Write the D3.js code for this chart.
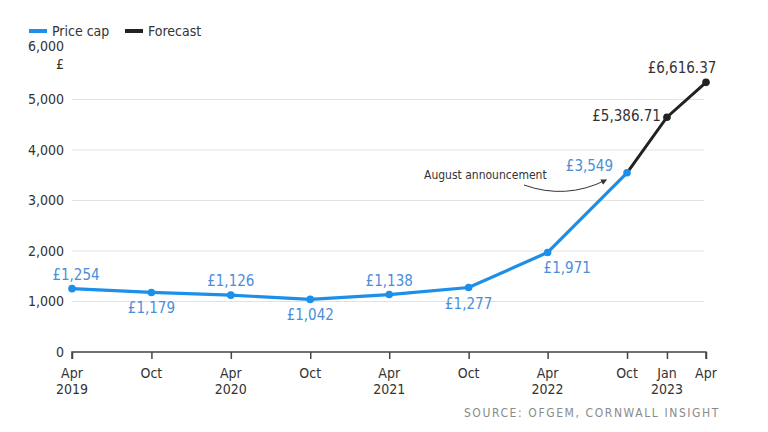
<!DOCTYPE html>
<html><head><meta charset="utf-8">
<script src="https://cdn.jsdelivr.net/npm/d3@7"></script>
<style>
body{margin:0;background:#fff;}
svg{font-family:"Liberation Sans Narrow","DejaVu Sans Condensed","Roboto Condensed",sans-serif;}
</style></head>
<body><svg id="c" width="768" height="432"></svg>
<script>
const capDates = ["2019-04-01","2019-10-01","2020-04-01","2020-10-01","2021-04-01","2021-10-01","2022-04-01","2022-10-01"];
const capValues = [1254,1179,1126,1042,1138,1277,1971,3549];
const capLabels = ["£1,254","£1,179","£1,126","£1,042","£1,138","£1,277","£1,971","£3,549"];
const capLabelPos = ["above","below","above","below","above","below","belowRight","leftAbove"];
const fcDates = ["2022-10-01","2023-01-01","2023-04-01"];
const fcValues = [3549,4650,5340];
const fcLabels = ["","£5,386.71","£6,616.37"];
const yTicks = [0,1000,2000,3000,4000,5000,6000];
const xTicks = ["2019-04-01","2019-10-01","2020-04-01","2020-10-01","2021-04-01","2021-10-01","2022-04-01","2022-10-01","2023-01-01","2023-04-01"];
const xTickLine1 = ["Apr","Oct","Apr","Oct","Apr","Oct","Apr","Oct","Jan","Apr"];
const xTickLine2 = ["2019","","2020","","2021","","2022","","2023",""];

const svg = d3.select("#c");
const parse = d3.timeParse("%Y-%m-%d");
const x = d3.scaleTime().domain([parse("2019-04-01"), parse("2023-04-01")]).range([72, 706]);
const y = d3.scaleLinear().domain([0, 6000]).range([352, 49]);
const blue = "#1b8fe9", blueText = "#4a8ed8", dark = "#222";

// gridlines
svg.append("g").selectAll("line").data(yTicks.filter(d => d > 0 && d < 6000)).join("line")
  .attr("x1", 72).attr("x2", 704).attr("y1", d => y(d)).attr("y2", d => y(d))
  .attr("stroke", "#e2e2e2").attr("stroke-width", 1);

// y labels
svg.append("g").selectAll("text").data(yTicks).join("text")
  .attr("x", 64).attr("y", d => d === 6000 ? 51 : y(d)).attr("dy", d => d === 6000 ? 0 : "0.35em").attr("text-anchor", "end")
  .attr("font-size", 14).attr("fill", "#333").text(d => d3.format(",")(d));
svg.append("text").attr("x", 64).attr("y", 69).attr("text-anchor", "end").attr("font-size", 14).attr("fill", "#333").text("£");

// x axis
const xa = svg.append("g").attr("transform", `translate(0,${y(0)})`)
  .call(d3.axisBottom(x).tickValues(xTicks.map(parse)).tickSize(7).tickFormat(""));
xa.select(".domain").attr("stroke", "#444").attr("stroke-width", 1.5).attr("d", "M72,7V0H706V7");
xa.selectAll(".tick line").attr("stroke", "#444").attr("stroke-width", 1.5);
const xl = svg.append("g").selectAll("g").data(xTicks).join("g");
xl.append("text").attr("x", d => x(parse(d))).attr("y", 378).attr("text-anchor", "middle")
  .attr("font-size", 14).attr("fill", "#333").text((d, i) => xTickLine1[i]);
xl.append("text").attr("x", d => x(parse(d))).attr("y", 394).attr("text-anchor", "middle")
  .attr("font-size", 14).attr("fill", "#333").text((d, i) => xTickLine2[i]);

// lines
const capData = capDates.map((d, i) => ({d: parse(d), v: capValues[i], l: capLabels[i], p: capLabelPos[i]}));
const fcData = fcDates.map((d, i) => ({d: parse(d), v: fcValues[i], l: fcLabels[i]}));
const line = d3.line().x(d => x(d.d)).y(d => y(d.v));
svg.append("path").datum(fcData).attr("d", line).attr("fill", "none").attr("stroke", dark).attr("stroke-width", 3);
svg.append("path").datum(capData).attr("d", line).attr("fill", "none").attr("stroke", blue).attr("stroke-width", 3.2);
svg.append("g").selectAll("circle").data(fcData.slice(1)).join("circle")
  .attr("cx", d => x(d.d)).attr("cy", d => y(d.v)).attr("r", 3.8).attr("fill", dark);
svg.append("g").selectAll("circle").data(capData).join("circle")
  .attr("cx", d => x(d.d)).attr("cy", d => y(d.v)).attr("r", 3.8).attr("fill", blue);

// cap labels
svg.append("g").selectAll("text").data(capData).join("text")
  .attr("font-size", 15).attr("fill", blueText)
  .attr("text-anchor", d => d.p === "leftAbove" ? "end" : (d.p === "belowRight" ? "start" : "middle"))
  .attr("x", d => d.p === "leftAbove" ? x(d.d) - 14 : (d.p === "belowRight" ? x(d.d) - 4 : x(d.d) + (d.p === "above" && d.v === 1254 ? 4 : 0)))
  .attr("y", d => d.p === "above" ? y(d.v) - 9 : (d.p === "leftAbove" ? y(d.v) - 2 : y(d.v) + 21))
  .text(d => d.l);

// forecast labels
svg.append("text").attr("x", x(fcData[1].d) - 6).attr("y", y(fcData[1].v) + 4).attr("text-anchor", "end")
  .attr("font-size", 15).attr("fill", "#333").text(fcData[1].l);
svg.append("text").attr("x", x(fcData[2].d) - 24).attr("y", y(fcData[2].v) - 9).attr("text-anchor", "middle")
  .attr("font-size", 15).attr("fill", "#333").text(fcData[2].l);

// annotation
svg.append("text").attr("x", 424).attr("y", 179).attr("font-size", 12).attr("fill", "#333").text("August announcement");
svg.append("defs").append("marker").attr("id", "ah").attr("viewBox", "0 0 10 10").attr("refX", 8).attr("refY", 5)
  .attr("markerWidth", 6).attr("markerHeight", 6).attr("orient", "auto")
  .append("path").attr("d", "M0,0L10,5L0,10z").attr("fill", "#333");
svg.append("path").attr("d", "M524,185 Q566,200 606,180").attr("fill", "none").attr("stroke", "#333")
  .attr("stroke-width", 1).attr("marker-end", "url(#ah)");

// legend
svg.append("line").attr("x1", 29).attr("x2", 47).attr("y1", 31).attr("y2", 31).attr("stroke", blue).attr("stroke-width", 4);
svg.append("text").attr("x", 52).attr("y", 36).attr("font-size", 14).attr("fill", "#333").text("Price cap");
svg.append("line").attr("x1", 125).attr("x2", 143).attr("y1", 31).attr("y2", 31).attr("stroke", dark).attr("stroke-width", 4);
svg.append("text").attr("x", 148).attr("y", 36).attr("font-size", 14).attr("fill", "#333").text("Forecast");

// source
svg.append("text").attr("x", 720).attr("y", 417).attr("text-anchor", "end").attr("font-size", 12)
  .attr("letter-spacing", 1.6).attr("fill", "#8a8a8a").text("SOURCE: OFGEM, CORNWALL INSIGHT");
</script></body></html>
